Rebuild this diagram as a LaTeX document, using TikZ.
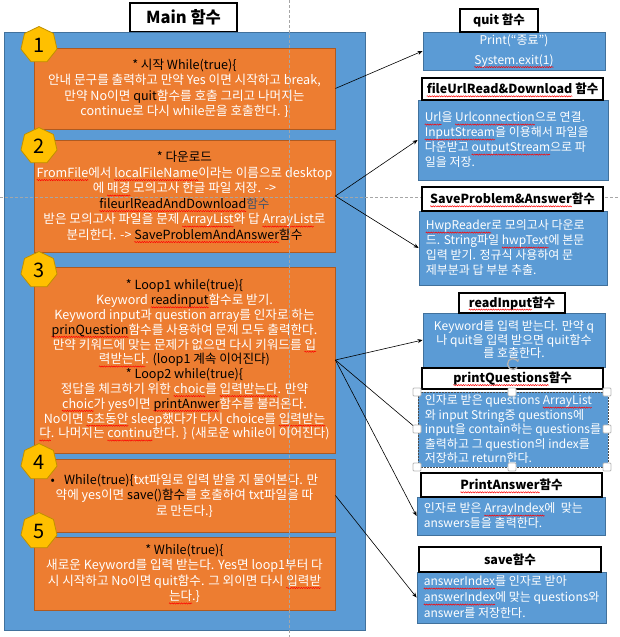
\documentclass[tikz,border=0pt]{standalone}
\usepackage{fontspec}
\setmainfont{Noto Sans CJK KR}
\usetikzlibrary{shapes.geometric,arrows.meta,decorations.pathmorphing}
\definecolor{pblue}{HTML}{5B9BD5}
\definecolor{pblueD}{HTML}{41719C}
\definecolor{porange}{HTML}{ED7D31}
\definecolor{porangeD}{HTML}{AE5A21}
\definecolor{pgold}{HTML}{FFC000}
\definecolor{pgoldD}{HTML}{BF9000}
\definecolor{guide}{HTML}{A6A6A6}
\definecolor{fnblue}{HTML}{44546A}
\newsavebox\sqbox
\newlength\sqlen
\newcommand\sq[1]{\leavevmode\sbox\sqbox{#1}\setlength\sqlen{\wd\sqbox}\tikz[overlay,x=1pt,y=1pt,baseline=0pt]\draw[red,line width=0.5pt,decorate,decoration={zigzag,amplitude=0.6pt,segment length=2.4pt}] (0,-2.6) -- (\sqlen,-2.6);\usebox\sqbox}
\newcommand\bk[1]{\textcolor{black}{#1}}
\begin{document}
\begin{tikzpicture}[x=1pt,y=-1pt,
  panel/.style={draw=pblueD,fill=pblue,line width=0.8pt},
  obox/.style={draw=porangeD,fill=porange,line width=0.8pt,minimum width=301pt,inner sep=0pt,text=white,align=center,font=\fontsize{12.6}{15.5}\selectfont},
  badge/.style={regular polygon,regular polygon sides=7,draw=pgoldD,fill=pgold,line width=0.8pt,minimum size=37pt,inner sep=0pt,font=\fontsize{20}{20}\selectfont},
  bbox/.style={draw=pblueD,fill=pblue,line width=0.8pt,inner sep=0pt,text=white,align=center,font=\fontsize{12}{15}\selectfont},
  btext/.style={anchor=west,inner sep=0pt,text=white,align=left,font=\fontsize{12}{15}\selectfont},
  tbox/.style={draw=black,fill=white,line width=1.8pt,inner sep=0pt,font=\bfseries\fontsize{12.5}{14}\selectfont},
  handle/.style={draw=gray!55,fill=white,line width=0.8pt,rounded corners=1pt,minimum size=8pt,inner sep=0pt},
  arr/.style={draw=black,line width=0.6pt,-{Stealth[length=5pt,width=4pt]}},
  guideline/.style={draw=guide,line width=0.7pt,dash pattern=on 3pt off 2pt}]
\useasboundingbox (0,0) rectangle (619,637);
\fill[white] (0,0) rectangle (619,637);

% main title
\node[tbox,minimum width=107pt,minimum height=29pt,font=\bfseries\fontsize{16.5}{18}\selectfont] (mt) at (183.5,17.5) {Main 함수};

% left panel
\node[panel,minimum width=361pt,minimum height=598pt,inner sep=0pt] (pan) at (184.5,331) {};

\node[obox,minimum height=81pt] (b1) at (184.5,88.5) {%
\bk{* 시작 While(true)\{}\\
안내 문구를 출력하고 만약 Yes 이면 시작하고 break,\\
만약 No이면 \bk{quit}함수를 호출 그리고 나머지는\\
continue로 다시 while문을 호출한다. \}};

\node[obox,minimum height=112pt] (b2) at (184.5,196) {%
\bk{* 다운로드}\\
\sq{FromFile}에서 \sq{localFileName}이라는 이름으로 desktop\\
에 \sq{매경} 모의고사 한글 파일 저장. ->\\
\bk{\sq{fileurlReadAndDownload}}\textcolor{fnblue}{함수}\\
받은 모의고사 파일을 문제 \sq{ArrayList}와 답 \sq{ArrayList}로\\
분리한다. -> \bk{\sq{SaveProblemAndAnswer}함수}};

\node[obox,minimum height=186pt,font=\fontsize{12.6}{14.8}\selectfont] (b3) at (184.5,360) {%
\bk{* Loop1 while(true)\{}\\
Keyword \bk{\sq{readinput}}함수로 받기.\\
Keyword input과 question array를 인자로 하는\\
\bk{\sq{prinQuestion}}함수를 사용하여 문제 모두 출력한다.\\
만약 키워드에 맞는 문제가 없으면 다시 키워드를 \sq{입}\\
\sq{력받는다}. \bk{(loop1 계속 이어진다)}\\
\bk{* Loop2 while(true)\{}\\
정답을 체크하기 위한 \sq{choic}를 \sq{입력받는다}. 만약\\
\sq{choic}가 yes이면 \bk{\sq{printAnwer}}함수를 불러온다.\\
No이면 \sq{5초동안} sleep했다가 다시 choice를 \sq{입력받는}\\
\sq{다}. 나머지는 \sq{continu}한다. \} (새로운 while이 이어진다)};

\node[obox,minimum height=73pt] (b4) at (184.5,495.5) {%
\bk{•}\hspace{9pt}\bk{While(true)\{}txt파일로 입력 받을 지 물어본다. 만\\
약에 yes이면 \bk{save()함수}를 호출하여 txt파일을 따\\
로 만든다.\}};

\node[obox,minimum height=73pt] (b5) at (184.5,573.5) {%
\bk{* While(true)\{}\\
새로운 Keyword를 입력 받는다. Yes면 loop1부터 다\\
시 시작하고 No이면 quit함수. 그 외이면 다시 \sq{입력받}\\
\sq{는다}.\}};

\node[badge] (n1) at (39,45) {1};
\node[badge] (n2) at (39,146) {2};
\node[badge] (n3) at (39,270) {3};
\node[badge] (n4) at (39,462) {4};
\node[badge] (n5) at (39,531) {5};

% guides
\draw[guideline] (289,0) -- (289,637);
\draw[guideline] (0,197) -- (619,197);

% right side
\node[bbox,minimum width=182pt,minimum height=38pt] (qb) at (514,51) {Print(“종료”)\\[5pt]\sq{System.exit(1)}};
\node[tbox,minimum width=78pt,minimum height=23pt] (qt) at (499,20.5) {quit 함수};

\node[bbox,minimum width=190pt,minimum height=80pt] (fb) at (513,140) {};
\node[btext] (fbt) at ([xshift=7pt]fb.west) {\sq{Url}을 \sq{Urlconnection}으로 연결.\\ \sq{InputStream}을 이용해서 파일을\\ 다운받고 \sq{outputStream}으로 파\\ 일을 저장.};
\node[tbox,minimum width=181pt,minimum height=22pt] (ft) at (512.5,89) {\sq{fileUrlRead\&Download} 함수};

\node[bbox,minimum width=188pt,minimum height=74pt] (sb) at (513,248) {};
\node[btext] (sbt) at ([xshift=7pt]sb.west) {\sq{HwpReader}로 모의고사 다운로\\ 드. String파일 \sq{hwpText}에 본문\\ 입력 받기. 정규식 사용하여 문\\ 제부분과 답 부분 추출.};
\node[tbox,minimum width=181pt,minimum height=24pt] (st) at (512.5,199) {\sq{SaveProblem\&Answer}함수};

\node[bbox,minimum width=182pt,minimum height=54pt,font=\fontsize{12}{13.5}\selectfont] (rb) at (514,340) {Keyword를 입력 받는다. 만약 q\\ 나 quit을 입력 받으면 quit함수\\ 를 호출한다.};
\node[tbox,minimum width=106pt,minimum height=20pt] (rt) at (512,303) {\sq{readInput}함수};

\node[tbox,minimum width=181pt,minimum height=21pt] (pt) at (512.5,378.5) {\sq{printQuestions}함수};
\node[bbox,draw=gray!60!black,dash pattern=on 2pt off 1pt,line width=0.6pt,minimum width=190pt,minimum height=75pt] (pb) at (513,429.5) {};
\node[btext,font=\fontsize{12}{14.5}\selectfont] (pbt) at ([xshift=7pt]pb.west) {인자로 받은 questions \sq{ArrayList}\\ 와 input String중 questions에\\ input을 contain하는 questions를\\ 출력하고 그 question의 index를\\ 저장하고 return한다.};

\node[bbox,minimum width=188pt,minimum height=38pt] (ab) at (511,516) {};
\node[btext] (abt) at ([xshift=7pt]ab.west) {인자로 받은 \sq{ArrayIndex}에~ 맞는\\ answers들을 출력한다.};
\node[tbox,minimum width=181pt,minimum height=24pt] (at) at (511.5,485) {\sq{PrintAnswer}함수};

\node[bbox,minimum width=189pt,minimum height=51pt] (svb) at (511.5,597.5) {};
\node[btext,font=\fontsize{12}{16}\selectfont] (svbt) at ([xshift=7pt]svb.west) {\sq{answerIndex}를 인자로 받아\\ \sq{answerIndex}에 맞는 questions와\\ answer를 저장한다.};
\node[tbox,minimum width=182pt,minimum height=25pt] (svt) at (510,559.5) {save함수};

% arrows
\draw[arr] (b1.east) -- (qb.west);
\draw[arr] (b2.east) -- (fb.west);
\draw[arr] (b2.east) -- (sb.west);
\draw[arr] (b3.east) -- (rb.west);
\draw[arr] (b3.east) -- (pb.west);
\draw[arr] (b3.east) -- (ab.west);
\draw[arr] (b4.east) -- (svb.west);

% selection handles
\node[handle] (h1) at (417,392) {};
\node[handle] (h2) at (512,392) {};
\node[handle] (h3) at (607,392) {};
\node[handle] (h4) at (417,429) {};
\node[handle] (h5) at (607,429) {};
\node[handle] (h6) at (417,467) {};
\node[handle] (h7) at (512,467) {};
\node[handle] (h8) at (607,467) {};
\coordinate (rot) at (513,364);
\draw[gray!60,line width=1.3pt,-{Stealth[length=3pt,width=4pt]}] ([shift={(40:5.5)}]rot) arc[start angle=40,end angle=340,radius=5.5];
\end{tikzpicture}
\end{document}
